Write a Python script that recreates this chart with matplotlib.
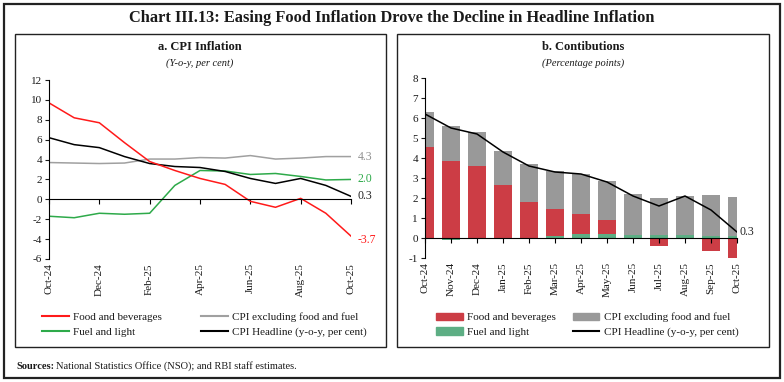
import matplotlib
matplotlib.use("Agg")
import matplotlib.pyplot as plt
from matplotlib.patches import Rectangle
from matplotlib.lines import Line2D
from matplotlib.patches import Patch
import numpy as np

## data
months = ["Oct-24", "Nov-24", "Dec-24", "Jan-25", "Feb-25", "Mar-25", "Apr-25",
          "May-25", "Jun-25", "Jul-25", "Aug-25", "Sep-25", "Oct-25"]

# panel a: y-o-y inflation, per cent
food = [9.7, 8.2, 7.7, 5.7, 3.8, 2.9, 2.1, 1.5, -0.2, -0.8, 0.1, -1.4, -3.7]
core = [3.7, 3.65, 3.6, 3.65, 4.05, 4.05, 4.2, 4.15, 4.4, 4.05, 4.15, 4.3, 4.3]
fuel = [-1.7, -1.85, -1.4, -1.5, -1.4, 1.4, 2.9, 2.85, 2.5, 2.6, 2.3, 1.95, 2.0]
headline = [6.2, 5.5, 5.2, 4.3, 3.6, 3.3, 3.2, 2.8, 2.1, 1.6, 2.1, 1.4, 0.3]

# panel b: contributions, percentage points
food_c = [4.55, 3.87, 3.60, 2.65, 1.78, 1.35, 0.98, 0.68, -0.02, -0.40, 0.02, -0.66, -1.05]
core_c = [1.77, 1.73, 1.72, 1.72, 1.92, 1.92, 2.00, 1.95, 2.03, 1.87, 1.93, 2.03, 1.95]
fuel_c = [-0.05, -0.08, -0.07, -0.05, -0.05, 0.08, 0.20, 0.20, 0.15, 0.15, 0.13, 0.10, 0.12]

plt.rcParams['font.family'] = ['Liberation Serif', 'DejaVu Serif']
plt.rcParams['axes.unicode_minus'] = False
TXT = '#1a1a1a'

W, H = 784, 382
fig = plt.figure(figsize=(W / 100, H / 100), dpi=100)


def fx(px):
    return px / W


def fy(py):
    return 1 - py / H


## frames
fig.patches.append(Rectangle((fx(4), fy(378)), fx(776), (374) / H, transform=fig.transFigure,
                             fill=False, lw=1.6, ec='#222222'))
for x0, x1 in [(15, 386), (397, 769)]:
    fig.patches.append(Rectangle((fx(x0), fy(347)), fx(x1 - x0), (347 - 34) / H,
                                 transform=fig.transFigure, fill=False, lw=1.0, ec='#222222'))

fig.text(0.5, fy(18), "Chart III.13: Easing Food Inflation Drove the Decline in Headline Inflation",
         ha='center', va='center', fontsize=11.8, fontweight='bold', color=TXT)

x = np.arange(len(months))


def style_axis(ax, ticks, labels):
    for s in ['top', 'right']:
        ax.spines[s].set_visible(False)
    ax.spines['bottom'].set_position(('data', 0))
    ax.spines['left'].set_linewidth(0.8)
    ax.spines['bottom'].set_linewidth(0.8)
    ax.tick_params(axis='y', length=3, width=0.8, labelsize=8, colors=TXT, pad=2)
    ax.set_xticks(ticks)
    ax.tick_params(axis='x', length=3.5, width=0.8, labelbottom=False)
    sec = ax.secondary_xaxis(0)
    sec.set_xticks(ticks)
    sec.set_xticklabels(labels, rotation=90, fontsize=8, color=TXT)
    sec.tick_params(length=0, pad=3)
    sec.spines['bottom'].set_visible(False)


## panel a
ax1 = fig.add_axes([fx(49), fy(259), fx(302), (259 - 80) / H])
c_food, c_core, c_fuel = '#ff1a1a', '#a0a0a0', '#2eaa4a'
ax1.plot(x, core, color=c_core, lw=1.1)
ax1.plot(x, fuel, color=c_fuel, lw=1.1)
ax1.plot(x, headline, color='black', lw=1.1)
ax1.plot(x, food, color=c_food, lw=1.1)
ax1.set_xlim(0, 12)
ax1.set_ylim(-6, 12)
ax1.set_yticks(range(-6, 13, 2))
style_axis(ax1, x[::2], months[::2])
for vals, col, dy in [(core, '#909090', 0), (fuel, c_fuel, 0), (headline, '#222222', 0), (food, c_food, -3)]:
    ax1.annotate(f"{vals[-1]:.1f}", (x[-1], vals[-1]), xytext=(5, dy), textcoords='offset points',
                 va='center', ha='left', fontsize=8.5, color=col)

fig.text(fx(200), fy(47), "a. CPI Inflation", ha='center', va='center', fontsize=9, fontweight='bold', color=TXT)
fig.text(fx(200), fy(63), "(Y-o-y, per cent)", ha='center', va='center', fontsize=7.5, style='italic', color=TXT)

## panel b
ax2 = fig.add_axes([fx(425), fy(258), fx(312), (258 - 78) / H])
b_food, b_core, b_fuel = '#cc3d45', '#999999', '#5dae84'
pos_base = np.zeros(len(x))
neg_base = np.zeros(len(x))
for vals, col in [(fuel_c, b_fuel), (food_c, b_food), (core_c, b_core)]:
    v = np.array(vals)
    bottom = np.where(v >= 0, pos_base, neg_base)
    ax2.bar(x, v, bottom=bottom, width=0.7, color=col, lw=0)
    pos_base = pos_base + np.where(v >= 0, v, 0)
    neg_base = neg_base + np.where(v < 0, v, 0)
ax2.plot(x, headline, color='black', lw=1.1)
ax2.set_xlim(0, 12)
ax2.set_ylim(-1, 8)
ax2.set_yticks(range(-1, 9))
style_axis(ax2, x, months)
ax2.annotate(f"{headline[-1]:.1f}", (x[-1], headline[-1]), xytext=(2, 0), textcoords='offset points',
             va='center', ha='left', fontsize=8.5, color='#222222')

fig.text(fx(583), fy(47), "b. Contibutions", ha='center', va='center', fontsize=9, fontweight='bold', color=TXT)
fig.text(fx(583), fy(63), "(Percentage points)", ha='center', va='center', fontsize=7.5, style='italic', color=TXT)

## legends
h1 = [Line2D([], [], color=c_food, lw=1.5), Line2D([], [], color=c_fuel, lw=1.5),
      Line2D([], [], color=c_core, lw=1.5), Line2D([], [], color='black', lw=1.5)]
l1 = ["Food and beverages", "Fuel and light", "CPI excluding food and fuel", "CPI Headline (y-o-y, per cent)"]
fig.legend(h1, l1, loc='center left', bbox_to_anchor=(fx(42), fy(325)), ncol=2, frameon=False,
           fontsize=8, handlelength=2.4, handletextpad=0.4, columnspacing=3.5, labelspacing=0.45,
           borderpad=0, borderaxespad=0, labelcolor=TXT)

h2 = [Patch(color=b_food), Patch(color=b_fuel), Patch(color=b_core), Line2D([], [], color='black', lw=1.5)]
fig.legend(h2, l1, loc='center left', bbox_to_anchor=(fx(436), fy(325)), ncol=2, frameon=False,
           fontsize=8, handlelength=2.4, handletextpad=0.4, columnspacing=1.5, labelspacing=0.45,
           borderpad=0, borderaxespad=0, labelcolor=TXT)

## sources
t = fig.text(fx(16), fy(369), "Sources:", ha='left', va='baseline', fontsize=7.5, fontweight='bold', color=TXT)
fig.canvas.draw()
bb = t.get_window_extent()
fig.text(bb.x1 / W + 0.003, fy(369), "National Statistics Office (NSO); and RBI staff estimates.",
         ha='left', va='baseline', fontsize=7.5, color=TXT)

fig.savefig("out.png", dpi=100)
